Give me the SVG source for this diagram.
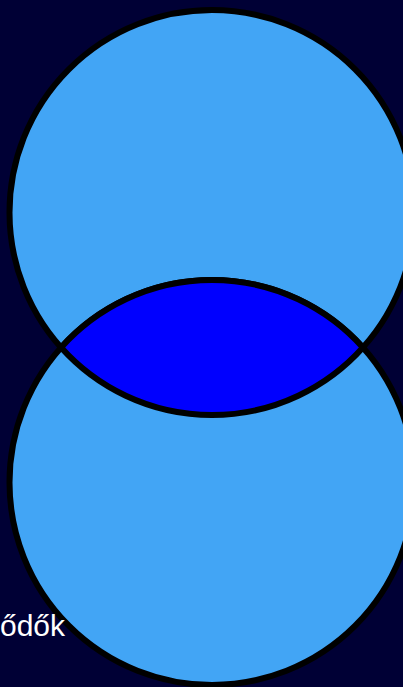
<svg xmlns="http://www.w3.org/2000/svg" width="403" height="687" viewBox="0 0 403 687">
  <style>
    .set { fill: #42A5F5; stroke: #000000; stroke-width: 6; }
    .lens { fill: #0000FF; stroke: #000000; stroke-width: 6; }
    .lbl { fill: #FFFFFF; font-family: "Liberation Sans", Arial, sans-serif; font-size: 30px; }
  </style>
  <rect x="0" y="0" width="403" height="687" fill="#000035"/>
  <g id="set-top">
    <circle class="set" cx="212" cy="212.5" r="202.5"/>
  </g>
  <g id="set-bottom">
    <circle class="set" cx="212" cy="482.5" r="202.5"/>
    <text class="lbl" x="0" y="636">ődők</text>
  </g>
  <g id="intersection">
    <path class="lens" d="M 61.07 347.5 A 202.5 202.5 0 0 1 362.93 347.5 A 202.5 202.5 0 0 1 61.07 347.5 Z"/>
  </g>
</svg>
